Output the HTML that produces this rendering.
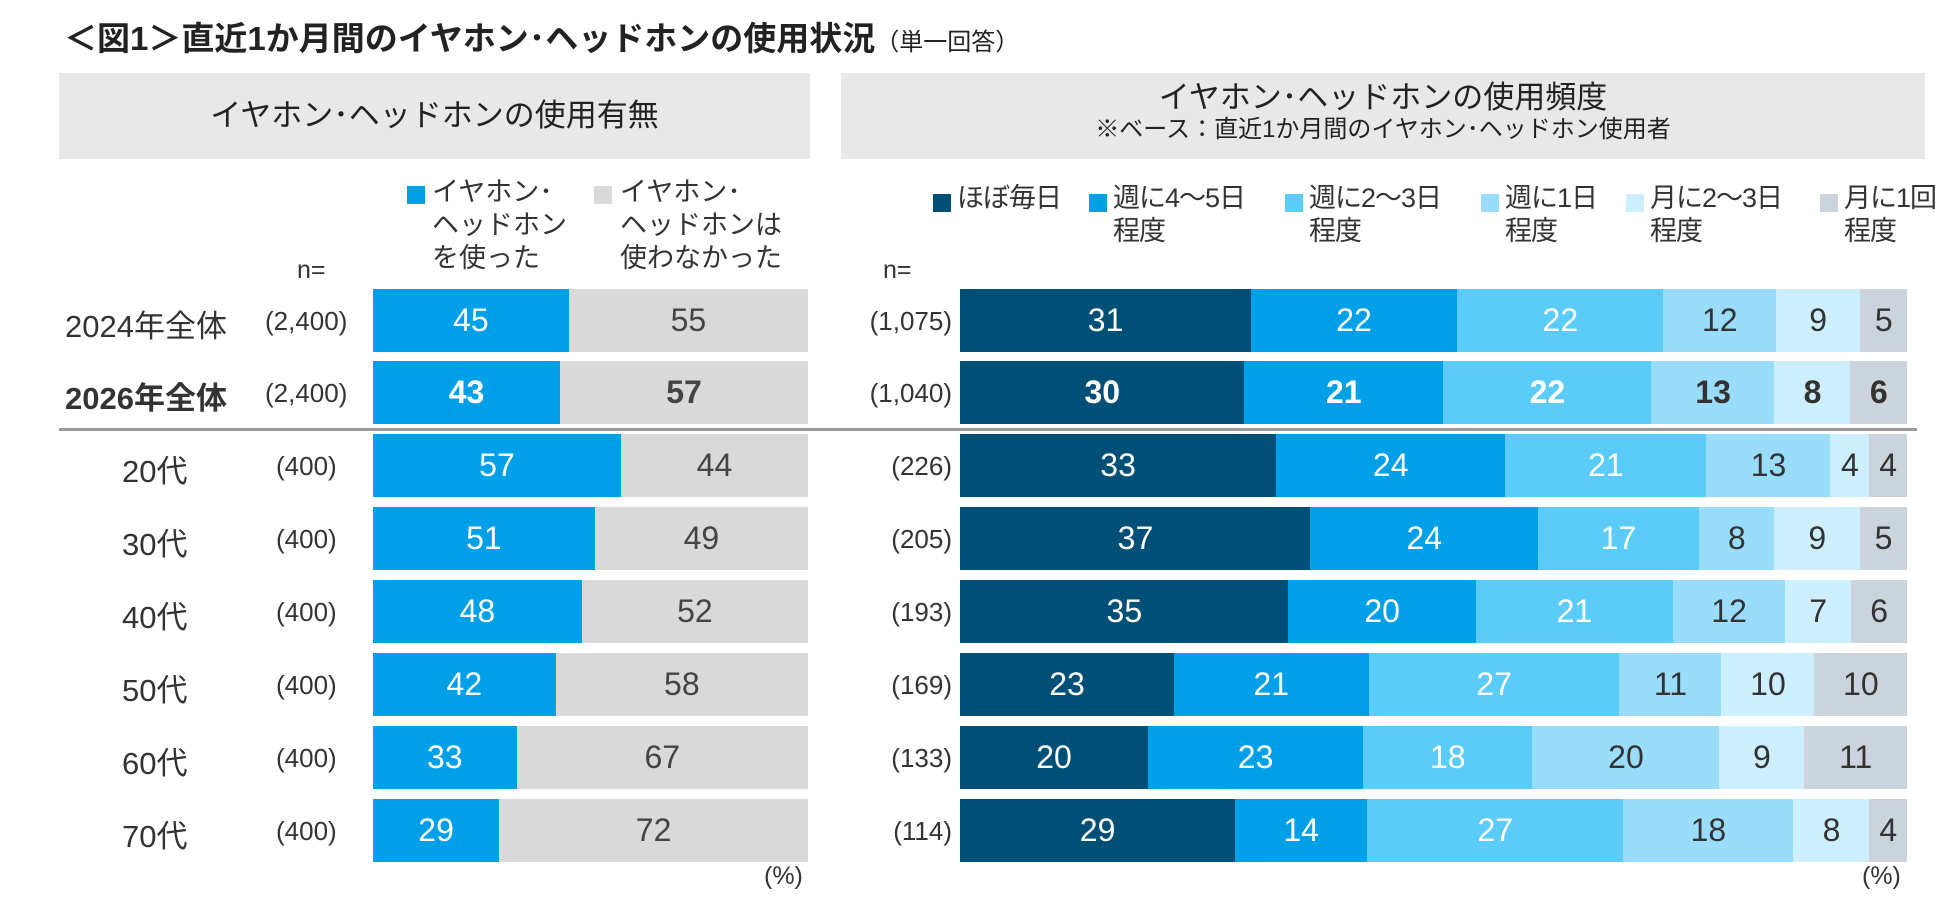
<!DOCTYPE html>
<html><head><meta charset="utf-8">
<style>
body{margin:0;width:1950px;height:907px;background:#fff;font-family:"Liberation Sans","Noto Sans CJK JP",sans-serif;color:#333;overflow:hidden;position:relative}
.a{position:absolute;white-space:nowrap}
.hdr{position:absolute;background:#e8e8e8;text-align:center;color:#222}
.sq{position:absolute;width:18px;height:18px}
.lg{position:absolute;font-size:27px;line-height:33px;color:#333;white-space:nowrap}
.seg{position:absolute;display:flex;align-items:center;justify-content:center;font-size:32px}
</style></head><body>
<div class="a" style="left:64px;top:12px;font-size:33px;font-weight:bold;color:#222">＜図1＞直近1か月間のイヤホン･ヘッドホンの使用状況<span style="font-size:24px;font-weight:normal">（単一回答）</span></div>
<div class="hdr" style="left:59px;top:73px;width:751px;height:86px;line-height:86px;font-size:31px">イヤホン･ヘッドホンの使用有無</div>
<div class="hdr" style="left:841px;top:73px;width:1084px;height:86px;"><div style="font-size:31px;line-height:34px;margin-top:8px">イヤホン･ヘッドホンの使用頻度</div><div style="font-size:24px;line-height:30px">※ベース：直近1か月間のイヤホン･ヘッドホン使用者</div></div>

<div class="sq" style="left:407px;top:186px;background:#00a0e9"></div>
<div class="lg" style="left:432px;top:176px">イヤホン･<br>ヘッドホン<br>を使った</div>
<div class="sq" style="left:594px;top:186px;background:#d9d9d9"></div>
<div class="lg" style="left:620px;top:176px">イヤホン･<br>ヘッドホンは<br>使わなかった</div>
<div class="a" style="left:297px;top:256px;font-size:25px">n=</div>
<div class="a" style="left:883px;top:256px;font-size:25px">n=</div>
<div id="rlg"></div>
<div id="chart"></div>
<div class="a" style="left:59px;top:428px;width:1858px;height:3px;background:#999"></div>
<div class="a" style="left:764px;top:862px;font-size:25px">(%)</div>
<div class="a" style="left:1862px;top:862px;font-size:25px">(%)</div>
<script>
const rowLabels=["2024年全体","2026年全体","20代","30代","40代","50代","60代","70代"];
const leftN=["(2,400)","(2,400)","(400)","(400)","(400)","(400)","(400)","(400)"];
const rightN=["(1,075)","(1,040)","(226)","(205)","(193)","(169)","(133)","(114)"];
const usedVals=[45,43,57,51,48,42,33,29];
const notUsedVals=[55,57,44,49,52,58,67,72];
const freqNames=["ほぼ毎日","週に4～5日<br>程度","週に2～3日<br>程度","週に1日<br>程度","月に2～3日<br>程度","月に1回<br>程度"];
const daily=[31,30,33,37,35,23,20,29];
const w45=[22,21,24,24,20,21,23,14];
const w23=[22,22,21,17,21,27,18,27];
const w1=[12,13,13,8,12,11,20,18];
const m23=[9,8,4,9,7,10,9,8];
const m1=[5,6,4,5,6,10,11,4];
const freqSeries=[daily,w45,w23,w1,m23,m1];
const freqColors=["#004f76","#00a0e9","#5bcbf9","#9adcfb","#cdeefc","#cbd3dc"];
const freqText=["#fff","#fff","#fff","#333","#333","#333"];
const rowTops=[289,361,434,507,580,653,726,799],barH=63;
const L0=373,LW=435,R0=960,RW=947;
const xl=v=>v/100*LW, xr=(v,s)=>v/s*RW;
const c=document.getElementById('chart');
function add(html){const d=document.createElement('div');d.innerHTML=html;const e=d.firstChild;c.appendChild(e);return e;}
const rl=document.getElementById('rlg');
const lgX=[933,1089,1285,1481,1626,1820];
freqNames.forEach((n,i)=>{
 const s=document.createElement('div');s.className='sq';s.style.cssText=`left:${lgX[i]}px;top:194px;background:${freqColors[i]}`;
 
 
 rl.appendChild(s);
 const t=document.createElement('div');t.className='lg';t.style.cssText=`left:${lgX[i]+24}px;top:182px;letter-spacing:-1px`;t.innerHTML=n;
 
 
 rl.appendChild(t);
});
rowLabels.forEach((lab,r)=>{
 const y=rowTops[r],bold=r===1?'font-weight:bold;':'';
 const lx=r<2?65:122;
 const e1=add(`<div class="a" style="left:${lx}px;top:${y+12}px;font-size:31px;${bold}">${lab}</div>`);
 
 
 const e2=add(`<div class="a" style="left:${r<2?265:276}px;top:${y+17}px;font-size:26px">${leftN[r]}</div>`);
 
 
 const e3=add(`<div class="a" style="right:${1950-952}px;top:${y+17}px;font-size:26px">${rightN[r]}</div>`);
 
 
 const uw=xl(usedVals[r]);
 const b1=add(`<div class="seg" style="left:${L0}px;top:${y}px;width:${uw}px;height:${barH}px;background:#00a0e9;color:#fff;${bold}">${usedVals[r]}</div>`);
 
 
 const b2=add(`<div class="seg" style="left:${L0+uw}px;top:${y}px;width:${LW-uw}px;height:${barH}px;background:#d9d9d9;color:#444;${bold}">${notUsedVals[r]}</div>`);
 
 
 let sum=0;freqSeries.forEach(s=>sum+=s[r]);
 let x=R0;
 freqSeries.forEach((s,i)=>{
  const w=xr(s[r],sum);
  const b=add(`<div class="seg" style="left:${x}px;top:${y}px;width:${w+0.5}px;height:${barH}px;background:${freqColors[i]};color:${freqText[i]};${bold}">${s[r]}</div>`);
  
  
  x+=w;
 });
});
</script>
</body></html>
